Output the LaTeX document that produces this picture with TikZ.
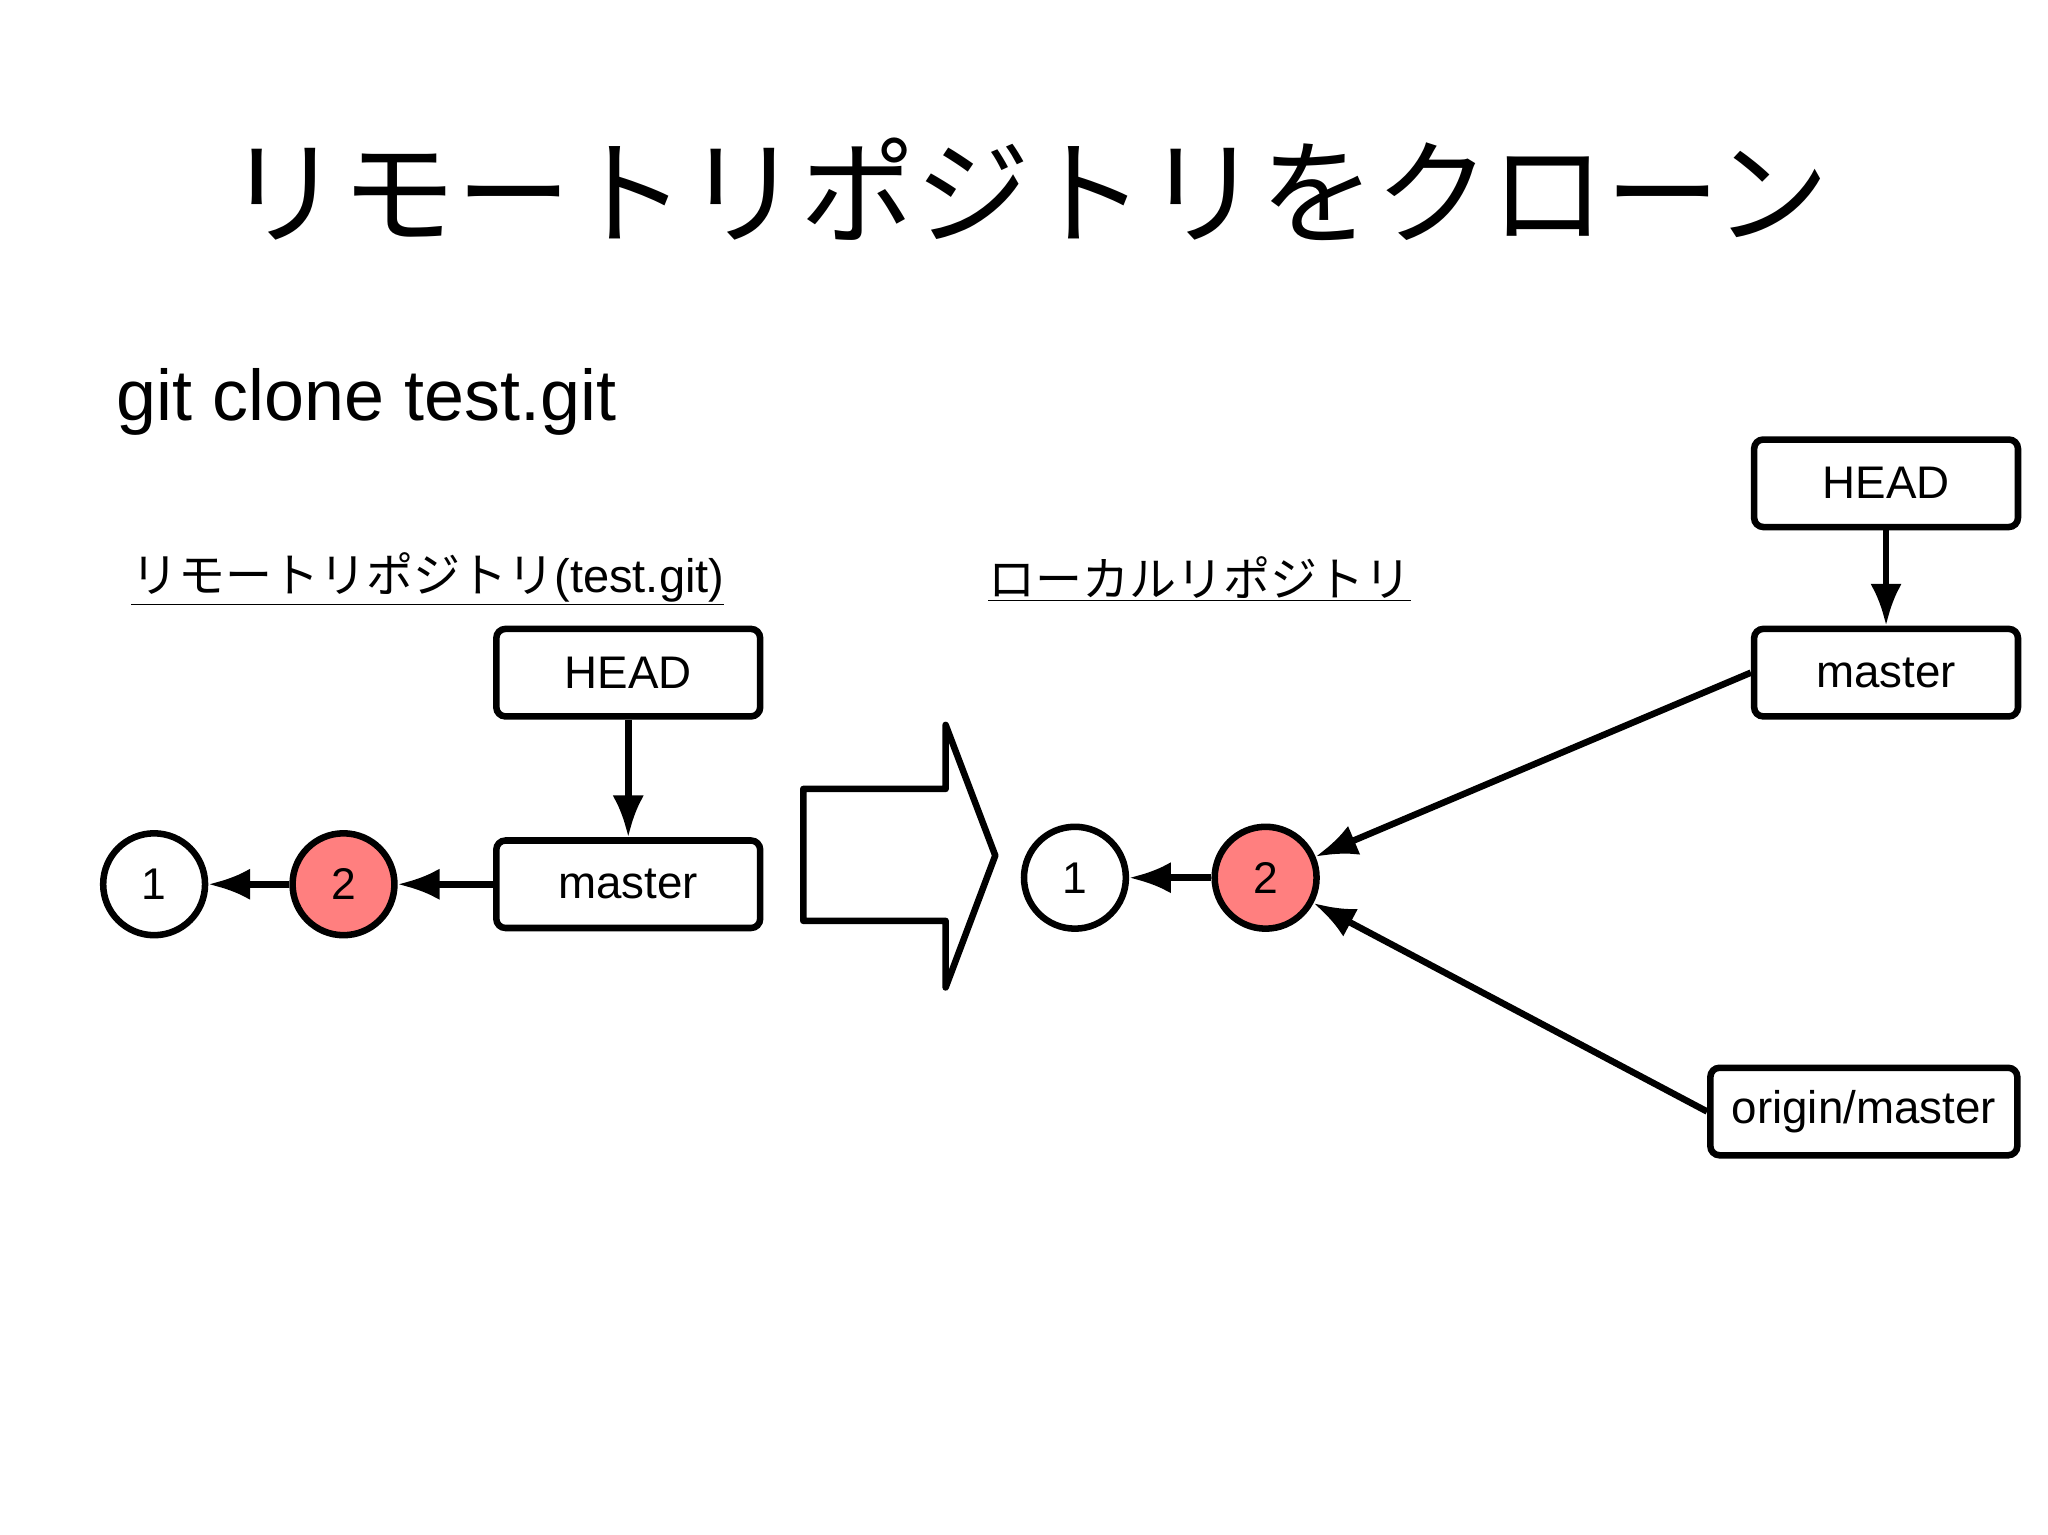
\documentclass[tikz,border=0pt]{standalone}
\usepackage{fontspec}
\setmainfont{Liberation Sans}
\newfontfamily\cjk{Noto Sans CJK JP}
\usetikzlibrary{arrows.meta}
\begin{document}
\begin{tikzpicture}[x=1pt,y=-1pt,
 box/.style={draw,line width=5,rounded corners=7,minimum width=202,minimum height=67,font=\fontsize{35}{38}\selectfont},
 commit/.style={draw,circle,line width=5,minimum size=78,inner sep=0,font=\fontsize{34}{36}\selectfont},
 red/.style={fill={rgb,255:red,255;green,127;blue,127}},
 arr/.style={line width=5,-{Latex[length=32,width=24]}}]
\useasboundingbox (0,0) rectangle (1568,1175);
\node (title) at (787,145) {\cjk\fontsize{88}{94}\selectfont リモートリポジトリをクローン};
\node[anchor=west] (cmd) at (86,308) {\fontsize{55}{60}\selectfont git clone test.git};
\node[anchor=west] (lr) at (97,443) {\fontsize{36}{40}\selectfont\underline{{\cjk リモートリポジトリ}(test.git)}};
\node[anchor=west] (rr) at (753,443) {\fontsize{36}{40}\selectfont\underline{\cjk ローカルリポジトリ}};
% left
\node[box] (lhead) at (481,515) {HEAD};
\node[box] (lmaster) at (481,677) {master};
\node[commit] (l1) at (118,677) {1};
\node[commit,red] (l2) at (263,677) {2};
\draw[arr] (lhead) -- (lmaster);
\draw[arr] (lmaster) -- (l2);
\draw[arr] (l2) -- (l1);
% big arrow
\draw[line width=5,line join=round] (615,604) -- (724,604) -- (724,555) -- (762,655) -- (724,756) -- (724,705) -- (615,705) -- cycle;
% right
\node[box] (rhead) at (1444,370) {HEAD};
\node[box] (rmaster) at (1444,515) {master};
\node[box,minimum width=235] (origin) at (1427,851) {origin/master};
\node[commit] (r1) at (823,672) {1};
\node[commit,red] (r2) at (969,672) {2};
\draw[arr] (rhead) -- (rmaster);
\draw[arr] (rmaster.west) -- (r2);
\draw[arr] (origin.west) -- (r2);
\draw[arr] (r2) -- (r1);
\end{tikzpicture}
\end{document}
